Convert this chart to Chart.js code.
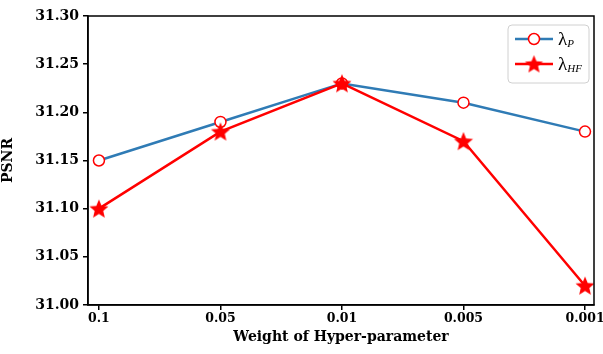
<!DOCTYPE html>
<html><head><meta charset="utf-8">
<script src="https://cdn.jsdelivr.net/npm/chart.js@4"></script>
<style>html,body{margin:0;padding:0;background:#fff;overflow:hidden}#wrap{width:620px;height:354px}</style>
</head><body><div id="wrap"><canvas id="c"></canvas></div>
<script>
const categories = ['0.1', '0.05', '0.01', '0.005', '0.001'];
const lambdaP = [31.15, 31.19, 31.23, 31.21, 31.18];
const lambdaHF = [31.10, 31.18, 31.23, 31.17, 31.02];
const yTicks = [31.00, 31.05, 31.10, 31.15, 31.20, 31.25, 31.30];
const seriesNames = [['λ', 'P'], ['λ', 'HF']];

const BLUE = '#2f7bb5', RED = '#ff0000';
const FONT = "'DejaVu Serif', serif";

function starImg(r) {
  const s = Math.ceil(r * 2 + 2);
  const c = document.createElement('canvas'); c.width = s; c.height = s;
  const g = c.getContext('2d');
  g.fillStyle = RED; g.beginPath();
  for (let i = 0; i < 10; i++) {
    const rad = i % 2 === 0 ? r : r * 0.45;
    const a = -Math.PI / 2 + i * Math.PI / 5;
    const x = s / 2 + rad * Math.cos(a), y = s / 2 + rad * Math.sin(a) + r * 0.08;
    i === 0 ? g.moveTo(x, y) : g.lineTo(x, y);
  }
  g.closePath(); g.fill();
  return c;
}
const STAR = starImg(10);
const STAR_SMALL = starImg(9.5);

const frame = {
  id: 'frame',
  afterDraw(chart) {
    const { ctx, chartArea: a } = chart;
    ctx.save();
    ctx.strokeStyle = '#000'; ctx.lineWidth = 1.5;
    ctx.strokeRect(a.left, a.top, a.right - a.left, a.bottom - a.top);
    // legend
    const bx = 508, by = 25, bw = 81, bh = 58;
    ctx.fillStyle = 'rgba(255,255,255,0.85)';
    ctx.strokeStyle = '#d0d0d0'; ctx.lineWidth = 1;
    ctx.beginPath(); ctx.roundRect(bx, by, bw, bh, 4); ctx.fill(); ctx.stroke();
    const rows = [{ y: 39, color: BLUE, mk: 'circle' }, { y: 64, color: RED, mk: 'star' }];
    rows.forEach((r, i) => {
      ctx.strokeStyle = r.color; ctx.lineWidth = 2.5;
      ctx.beginPath(); ctx.moveTo(515, r.y); ctx.lineTo(553, r.y); ctx.stroke();
      if (r.mk === 'circle') {
        ctx.fillStyle = '#fff'; ctx.strokeStyle = RED; ctx.lineWidth = 1.5;
        ctx.beginPath(); ctx.arc(534, r.y, 5.5, 0, Math.PI * 2); ctx.fill(); ctx.stroke();
      } else {
        ctx.drawImage(STAR_SMALL, 534 - STAR_SMALL.width / 2, r.y - STAR_SMALL.height / 2);
      }
      ctx.fillStyle = '#000'; ctx.textBaseline = 'alphabetic'; ctx.textAlign = 'left';
      ctx.font = "19px 'Liberation Serif', serif";
      ctx.fillText(seriesNames[i][0], 558, r.y + 6);
      const w = ctx.measureText(seriesNames[i][0]).width;
      ctx.font = "italic 11px 'Liberation Serif', serif";
      ctx.fillText(seriesNames[i][1], 558 + w, r.y + 8);
    });
    ctx.restore();
  }
};

new Chart(document.getElementById('c'), {
  type: 'line',
  data: {
    datasets: [
      { label: 'λP', data: lambdaP.map((v, i) => ({ x: i, y: v })), borderColor: BLUE, borderWidth: 2.5,
        pointStyle: 'circle', pointRadius: 5.5, pointBackgroundColor: '#fff', pointBorderColor: RED, pointBorderWidth: 1.5, order: 2 },
      { label: 'λHF', data: lambdaHF.map((v, i) => ({ x: i, y: v })), borderColor: RED, borderWidth: 2.5,
        pointStyle: STAR, pointRadius: 9, order: 1 }
    ]
  },
  options: {
    responsive: true, maintainAspectRatio: false, animation: false,
    layout: { padding: { top: 16, right: 26, left: 0, bottom: 0 } },
    plugins: { legend: { display: false }, tooltip: { enabled: false } },
    scales: {
      x: {
        type: 'linear', min: -0.09, max: 4.074,
        afterBuildTicks: s => { s.ticks = categories.map((_, i) => ({ value: i })); },
        afterFit: s => { s.height = 49; },
        ticks: { callback: v => categories[v] ?? '', color: '#000', font: { family: FONT, weight: 'bold', size: 12.5 }, padding: 1, maxRotation: 0 },
        grid: { drawOnChartArea: false, color: '#000', tickLength: 5, lineWidth: 1.5 },
        border: { color: '#000', width: 1.5 },
        title: { display: true, text: 'Weight of Hyper-parameter', color: '#000', font: { family: FONT, weight: 'bold', size: 14 }, padding: { top: 3, bottom: 8 } }
      },
      y: {
        min: 31.0, max: 31.3,
        afterBuildTicks: s => { s.ticks = yTicks.map(v => ({ value: v })); },
        afterFit: s => { s.width = 88; },
        ticks: { callback: v => Number(v).toFixed(2), color: '#000', font: { family: FONT, weight: 'bold', size: 14 }, padding: 4 },
        grid: { drawOnChartArea: false, color: '#000', tickLength: 5, lineWidth: 1.5 },
        border: { color: '#000', width: 1.5 },
        title: { display: true, text: 'PSNR', color: '#000', font: { family: FONT, weight: 'bold', size: 14 }, padding: { top: 0, bottom: 2 } }
      }
    }
  },
  plugins: [frame]
});
</script></body></html>
